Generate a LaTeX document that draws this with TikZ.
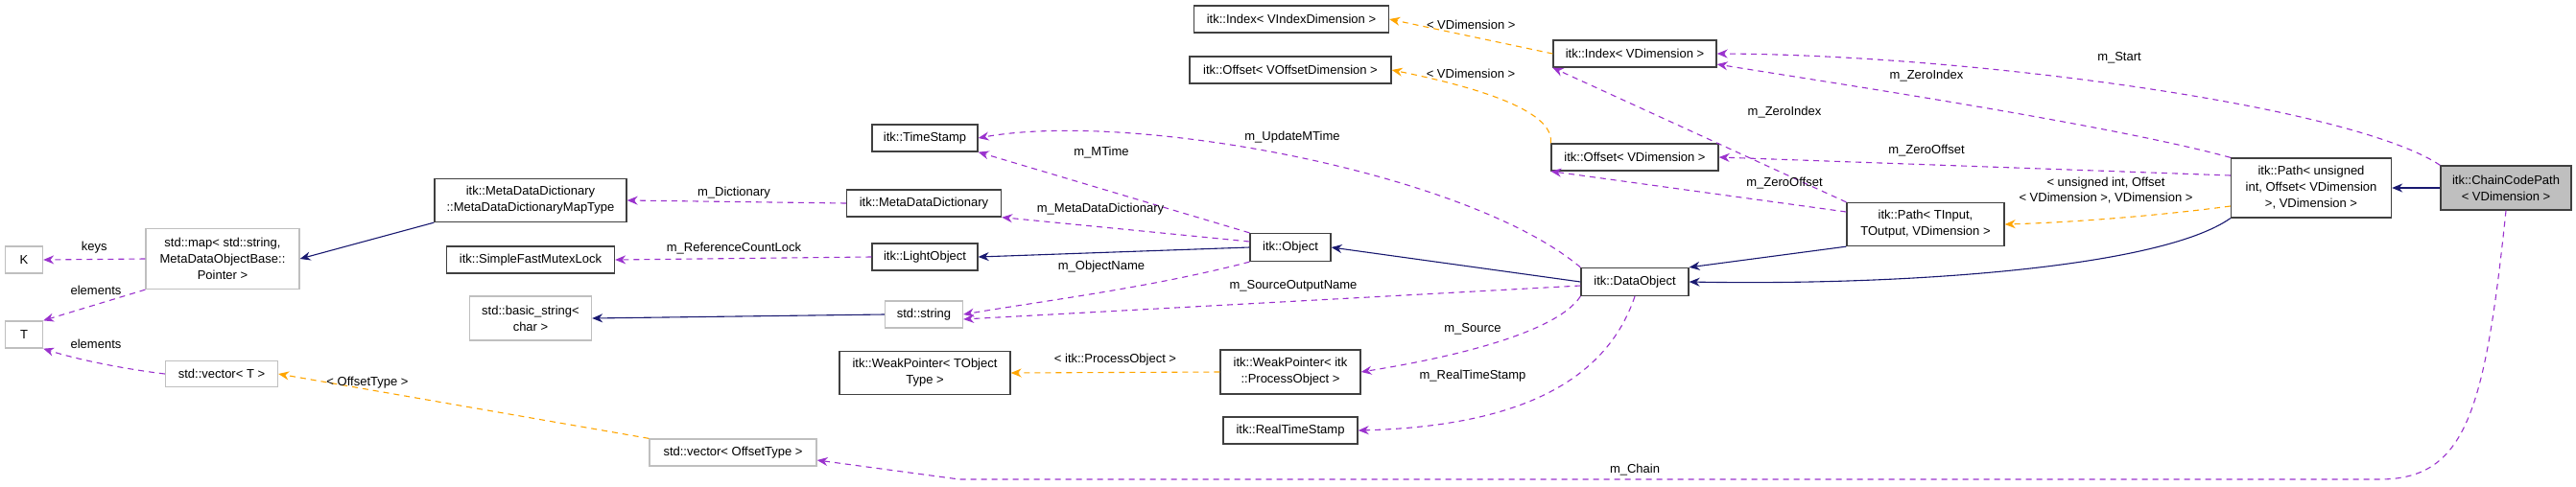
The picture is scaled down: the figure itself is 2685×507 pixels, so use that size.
\documentclass[tikz,border=0pt]{standalone}
\usepackage{fontspec}
\setmainfont{Liberation Sans}
\usetikzlibrary{arrows.meta}
\definecolor{pur}{HTML}{9A32CD}
\definecolor{org}{HTML}{FFA500}
\definecolor{nav}{HTML}{191970}
\begin{document}
\begin{tikzpicture}[x=1pt,y=-1pt,
  font=\fontsize{13}{17}\selectfont,
  box/.style={draw=black!75,line width=1.3pt,fill=white,align=center,inner sep=2pt},
  ext/.style={draw=black!25,line width=1.3pt,fill=white,align=center,inner sep=2pt},
  tip/.style={-{Stealth[length=11pt,width=9pt]}},
  inh/.style={tip,draw=nav,line width=1.1pt},
  mem/.style={tip,draw=pur,dashed,dash pattern=on 6pt off 5pt,line width=1.1pt},
  tpl/.style={tip,draw=org,dashed,dash pattern=on 6pt off 5pt,line width=1.1pt},
  lbl/.style={font=\fontsize{13}{16}\selectfont,align=center}]
\useasboundingbox (0,0) rectangle (2685,507);
\node[box,minimum width=203,minimum height=28] (IdxVI) at (1346,20) {itk::Index< VIndexDimension >};
\node[box,minimum width=170,minimum height=28] (IdxV) at (1704,56) {itk::Index< VDimension >};
\node[box,minimum width=210,minimum height=28] (OffVO) at (1345,73) {itk::Offset< VOffsetDimension >};
\node[box,minimum width=174,minimum height=28] (OffV) at (1704,164) {itk::Offset< VDimension >};
\node[box,minimum width=110,minimum height=28] (TS) at (964,144) {itk::TimeStamp};
\node[box,minimum width=161,minimum height=28] (MDD) at (963,212) {itk::MetaDataDictionary};
\node[box,minimum width=110,minimum height=28] (LO) at (964,268) {itk::LightObject};
\node[box,minimum width=84,minimum height=29] (Obj) at (1345,258) {itk::Object};
\node[ext,minimum width=81,minimum height=28] (Str) at (963,328) {std::string};
\node[box,minimum width=112,minimum height=29] (DO) at (1704,294) {itk::DataObject};
\node[box,minimum width=178,minimum height=45] (WPT) at (964,389) {itk::WeakPointer< TObject\\Type >};
\node[box,minimum width=146,minimum height=46] (WPP) at (1345,388) {itk::WeakPointer< itk\\::ProcessObject >};
\node[box,minimum width=140,minimum height=28] (RTS) at (1345,449) {itk::RealTimeStamp};
\node[box,minimum width=164,minimum height=45] (PathT) at (2007,234) {itk::Path< TInput,\\TOutput, VDimension >};
\node[box,minimum width=167,minimum height=62] (PathU) at (2409,196) {itk::Path< unsigned\\int, Offset< VDimension\\>, VDimension >};
\node[box,fill=black!25,minimum width=136,minimum height=46] (CCP) at (2612,196) {itk::ChainCodePath\\< VDimension >};
\node[ext,minimum width=39,minimum height=28] (K) at (25,271) {K};
\node[ext,minimum width=39,minimum height=28] (T) at (25,349) {T};
\node[ext,minimum width=160,minimum height=63] (Map) at (232,270) {std::map< std::string,\\MetaDataObjectBase::\\Pointer >};
\node[box,minimum width=200,minimum height=45] (MapT) at (553,209) {itk::MetaDataDictionary\\::MetaDataDictionaryMapType};
\node[box,minimum width=175,minimum height=28] (SFM) at (553,271) {itk::SimpleFastMutexLock};
\node[ext,minimum width=127,minimum height=46] (BS) at (553,332) {std::basic\_string<\\char >};
\node[ext,minimum width=117,minimum height=27] (VT) at (231,390) {std::vector< T >};
\node[ext,minimum width=174,minimum height=28] (VO) at (764,472) {std::vector< OffsetType >};
% inheritance
\draw[inh] (MapT.south west) -- (Map.east);
\draw[inh] (Str.west) -- (BS.east);
\draw[inh] (Obj.west) -- (LO.east);
\draw[inh] (DO.west) -- (Obj.east);
\draw[inh] (PathT.south west) -- (DO.north east);
\draw[inh] (PathU.south west) .. controls (2250,280) and (1980,298) .. (DO.east);
\draw[inh] (CCP.west) -- (PathU.east);
% templates
\draw[tpl] (IdxV.west) -- node[lbl,above,pos=.5,yshift=3]{< VDimension >} (IdxVI.east);
\draw[tpl] (OffV.north west) .. controls (1620,120) and (1560,95) .. (OffVO.east);
\node[lbl] at (1533,77) {< VDimension >};
\draw[tpl] (WPP.west) -- node[lbl,above,yshift=3]{< itk::ProcessObject >} (WPT.east);
\draw[tpl] (VO.north west) -- (VT.east);
\node[lbl] at (383,399) {< OffsetType >};
\draw[tpl] (PathU.west |- 0,215) .. controls (2250,225) and (2160,232) .. (PathT.east);
\node[lbl] at (2195,199) {< unsigned int, Offset\\< VDimension >, VDimension >};
% members
\draw[mem] (Map.west) -- node[lbl,above,yshift=2]{keys} (K.east);
\draw[mem] (Map.south west) -- (T.north east);
\node[lbl] at (100,303) {elements};
\draw[mem] (VT.west) .. controls (130,385) and (80,375) .. (T.south east);
\node[lbl] at (100,359) {elements};
\draw[mem] (MDD.west) -- (MapT.east);
\node[lbl] at (765,201) {m\_Dictionary};
\draw[mem] (LO.west) -- (SFM.east);
\node[lbl] at (765,259) {m\_ReferenceCountLock};
\draw[mem] (Obj.north west) -- (TS.south east);
\node[lbl] at (1148,159) {m\_MTime};
\draw[mem] (DO.north west) .. controls (1530,180) and (1180,115) .. (TS.east);
\node[lbl] at (1347,143) {m\_UpdateMTime};
\draw[mem] (Obj.west |- 0,252) -- (MDD.south east);
\node[lbl] at (1147,218) {m\_MetaDataDictionary};
\draw[mem] (Obj.south west) .. controls (1200,300) and (1080,315) .. (Str.east);
\node[lbl] at (1148,278) {m\_ObjectName};
\draw[mem] (DO.west |- 0,298) -- (Str.east |- 0,333);
\node[lbl] at (1348,298) {m\_SourceOutputName};
\draw[mem] (DO.south west) .. controls (1620,350) and (1500,375) .. (WPP.east);
\node[lbl] at (1535,343) {m\_Source};
\draw[mem] (DO.south) .. controls (1670,410) and (1560,445) .. (RTS.east);
\node[lbl] at (1535,392) {m\_RealTimeStamp};
\draw[mem] (PathT.north west) -- (IdxV.south west);
\node[lbl] at (1860,117) {m\_ZeroIndex};
\draw[mem] (PathT.west |- 0,221) -- (OffV.south west);
\node[lbl] at (1860,191) {m\_ZeroOffset};
\draw[mem] (PathU.north west) .. controls (2200,130) and (1900,85) .. (IdxV.east |- 0,67);
\node[lbl] at (2008,79) {m\_ZeroIndex};
\draw[mem] (PathU.west |- 0,183) -- (OffV.east);
\node[lbl] at (2008,157) {m\_ZeroOffset};
\draw[mem] (CCP.north west) .. controls (2450,110) and (2050,57) .. (IdxV.east);
\node[lbl] at (2209,60) {m\_Start};
\draw[mem] (CCP.south) .. controls (2590,430) and (2570,500) .. (2480,500) -- (1000,500) -- (VO.east |- 0,480);
\node[lbl] at (1704,490) {m\_Chain};
\end{tikzpicture}
\end{document}
